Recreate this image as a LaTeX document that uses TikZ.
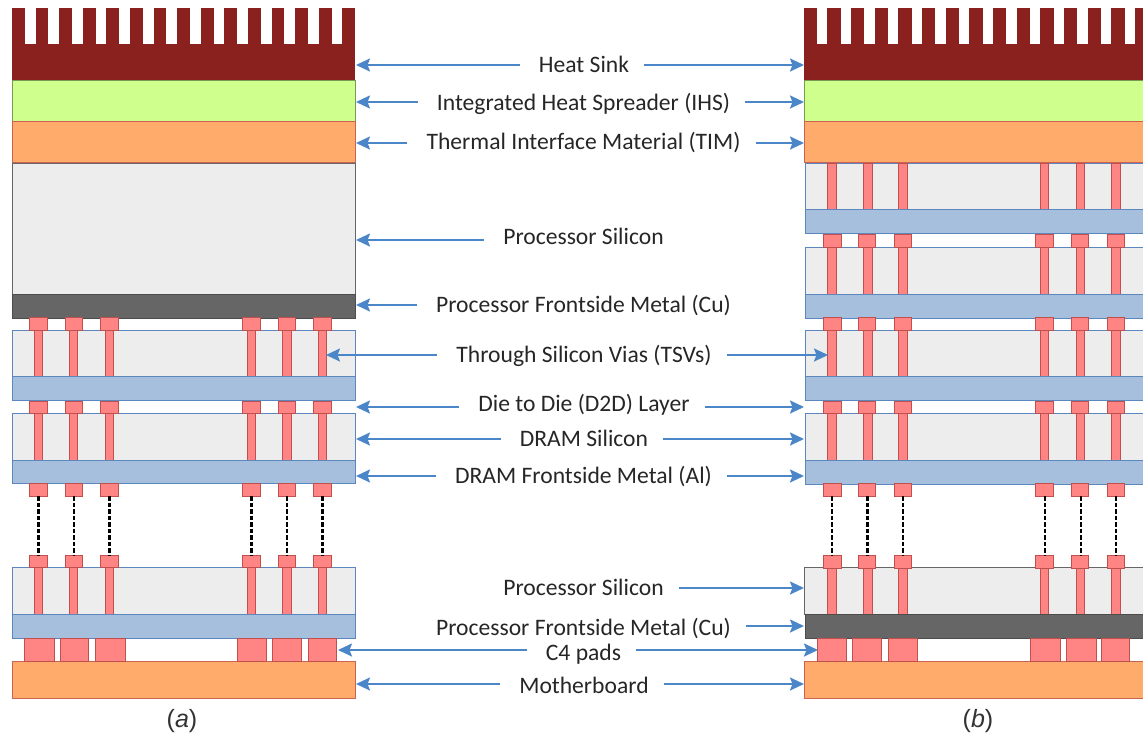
\documentclass[tikz,border=0pt]{standalone}
\usepackage{fontspec}
\setmainfont{Carlito}
\newfontfamily\capfont{Liberation Sans}
\usepackage{tikz}
\usetikzlibrary{arrows.meta,positioning}
\definecolor{sinkred}{HTML}{8B211E}
\definecolor{ihsgreen}{HTML}{CFFF8C}
\definecolor{timorange}{HTML}{FFAB6B}
\definecolor{siliconfill}{HTML}{EDEDED}
\definecolor{cufill}{HTML}{666666}
\definecolor{alfill}{HTML}{A6BFDD}
\definecolor{dieline}{HTML}{5B87BE}
\definecolor{padfill}{HTML}{FF8585}
\definecolor{padline}{HTML}{C0504D}
\definecolor{arrowblue}{HTML}{4A86C8}
\tikzset{
	sink/.style={fill=sinkred,draw=none},
	ihs/.style={fill=ihsgreen,draw=ihsgreen!60!black,line width=0.8pt},
	tim/.style={fill=timorange,draw=padline!80!timorange,line width=0.8pt},
	silicon/.style={fill=siliconfill,draw=dieline,line width=1pt},
	procsilicon/.style={fill=siliconfill,draw=black!60,line width=1pt},
	cumetal/.style={fill=cufill,draw=black!70,line width=1pt},
	almetal/.style={fill=alfill,draw=dieline,line width=1pt},
	padbox/.style={fill=padfill,draw=padline,line width=1pt},
	lbl/.style={font=\fontsize{23.6}{26}\selectfont,text=black!85,inner xsep=15pt,inner ysep=0pt,text height=17pt,text depth=3pt},
	caplbl/.style={font=\capfont\fontsize{25}{28}\selectfont,text=black!80,inner sep=0pt},
	blue arrow/.style={draw=arrowblue,line width=2.2pt,-{Stealth[length=14pt,width=13pt,inset=2.5pt]}},
}
\begin{document}
\begin{tikzpicture}[x=1pt,y=-1pt]
	\clip (0,0) rectangle (1143,737);
	% heat sinks
	\foreach \i in {0,...,14} {
		\fill[sinkred] ({12+23.6*\i},8) rectangle ({24.7+23.6*\i},44);
		\fill[sinkred] ({803.7+23.67*\i},8) rectangle ({817+23.67*\i},44);
	}
	\foreach \xa/\xb in {12/355,804/1146} {
		\draw[sink] (\xa,44) rectangle (\xb,80);
		\draw[ihs] (\xa,80.3) rectangle (\xb,121);
		\draw[tim] (\xa,121) rectangle (\xb,162.7);
		\draw[tim] (\xa,661.3) rectangle (\xb,698);
	}
	% (a) top die
	\draw[procsilicon] (12,163) rectangle (355,294);
	\draw[cumetal] (12,294) rectangle (355,318);
	% (a) dram and bottom dies
	\foreach \t in {330,413.3,567.7} {
		\draw[silicon] (12,\t) rectangle (355,\t+46.7);
		\foreach \x/\w in {38.5/18,73.5/17,109.7/18,251.7/18,287/17,322.5/18} {
			\draw[padbox] (\x-4.2,\t) rectangle (\x+4.2,\t+46.7);
			\draw[padbox] (\x-\w/2,\t-12.3) rectangle (\x+\w/2,\t);
		}
		\draw[almetal] (12,\t+46.7) rectangle (355,\t+70.5);
	}
	\foreach \x/\w in {38.5/18,73.5/17,109.7/18,251.7/18,287/17,322.5/18}
		\draw[padbox] (\x-\w/2,483.7) rectangle (\x+\w/2,496);
	% (b) dies
	\foreach \t in {163,247.3,330,413.3} {
		\draw[silicon] (805.3,\t) -- (805.3,\t+46.7) -- (1146,\t+46.7) -- (1146,\t) -- cycle;
		\foreach \x in {831.7,867.7,902.7,1044.3,1080.3,1115.7}
			\draw[padbox] (\x-4.3,\t) rectangle (\x+4.3,\t+46.7);
		\draw[almetal] (805.3,\t+46.7) rectangle (1146,\t+70.8);
	}
	\draw[procsilicon] (804,567.7) rectangle (1146,614);
	\foreach \x in {831.7,867.7,902.7,1044.3,1080.3,1115.7}
		\draw[padbox] (\x-4.3,567.7) rectangle (\x+4.3,614);
	\draw[cumetal] (805.3,614) rectangle (1146,638);
	\foreach \t in {234.3,317.5,401,483.7,555.4}
		\foreach \x/\w in {832.3/17.5,867.2/17,903.2/17,1044.5/18.4,1080/17.4,1116/17.4}
			\draw[padbox] (\x-\w/2,\t) rectangle (\x+\w/2,\t+12.7);
	% dashed links
	\foreach \x/\w in {38.5/3,73.5/2,109.7/3,251.7/3,287/2,322.5/2.6,832/2,867.5/3,903/2.2,1045/2.3,1081/2.2,1116/2.2}
		\draw[line width=\w pt,dash pattern=on 4.5pt off 2pt] (\x,496) -- (\x,555.4);
	% c4 pads
	\foreach \xa/\xb in {24/54,60/88.7,95.7/125,237.3/266,272.3/301.7,308.3/336.7,817.7/846.7,852.3/881.7,888.3/917.7,1030.3/1060,1066/1096,1101.7/1129.3}
		\draw[padbox] (\xa,638) rectangle (\xb,661);
	% labels
	\node[lbl] (sinklbl) at (584,65) {Heat Sink};
	\node[lbl] (ihslbl) at (583.5,103) {Integrated Heat Spreader (IHS)};
	\node[lbl] (timlbl) at (583.5,142) {Thermal Interface Material (TIM)};
	\node[lbl] (silicontop) at (583.5,237) {Processor Silicon};
	\node[lbl] (cutop) at (583.5,305) {Processor Frontside Metal (Cu)};
	\node[lbl] (tsvlbl) at (584,355) {Through Silicon Vias (TSVs)};
	\node[lbl] (d2dlbl) at (584,404) {Die to Die (D2D) Layer};
	\node[lbl] (dramlbl) at (584,439) {DRAM Silicon};
	\node[lbl] (allbl) at (583.5,476) {DRAM Frontside Metal (Al)};
	\node[lbl] (siliconbot) at (583.5,588) {Processor Silicon};
	\node[lbl] (cubot) at (583.5,628) {Processor Frontside Metal (Cu)};
	\node[lbl] (c4lbl) at (583.5,653) {C4 pads};
	\node[lbl] (mblbl) at (584,686) {Motherboard};
	\node[caplbl] (capa) at (182,721) {(\textit{a})};
	\node[caplbl] (capb) at (978,721) {(\textit{b})};
	% arrow ends
	\coordinate (sinka) at (356,65);
	\coordinate (sinkb) at (804,65);
	\coordinate (ihsa) at (356,102);
	\coordinate (ihsb) at (804,102);
	\coordinate (tima) at (356,143);
	\coordinate (timb) at (804,143);
	\coordinate (sila) at (356,240);
	\coordinate (cua) at (356,305);
	\coordinate (tsva) at (326,355);
	\coordinate (tsvb) at (828,355);
	\coordinate (d2da) at (356,407);
	\coordinate (d2db) at (804,407);
	\coordinate (drama) at (356,439);
	\coordinate (dramb) at (804,439);
	\coordinate (ala) at (356,476);
	\coordinate (alb) at (804,476);
	\coordinate (silb) at (804,588);
	\coordinate (cub) at (804,626);
	\coordinate (c4a) at (338,650);
	\coordinate (c4b) at (818,650);
	\coordinate (mba) at (356,684);
	\coordinate (mbb) at (804,684);
	% arrows
	\foreach \from/\to in {sinklbl/sinka,ihslbl/ihsa,timlbl/tima,silicontop/sila,cutop/cua,tsvlbl/tsva,d2dlbl/d2da,dramlbl/drama,allbl/ala,c4lbl/c4a,mblbl/mba}
		\draw[blue arrow,shorten <=4pt] (\from.west |- \to) -- (\to);
	\foreach \from/\to in {sinklbl/sinkb,ihslbl/ihsb,timlbl/timb,tsvlbl/tsvb,d2dlbl/d2db,dramlbl/dramb,allbl/alb,siliconbot/silb,cubot/cub,c4lbl/c4b,mblbl/mbb}
		\draw[blue arrow] (\from.east |- \to) -- (\to);
\end{tikzpicture}
\end{document}
